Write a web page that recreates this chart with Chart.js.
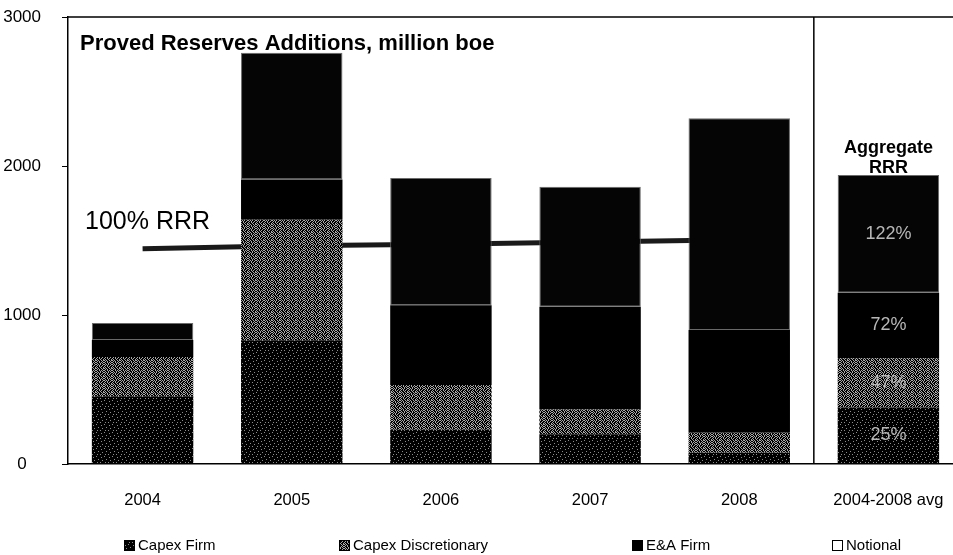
<!DOCTYPE html>
<html lang="en">
<head>
<meta charset="UTF-8">
<title>Proved Reserves Additions</title>
<style>
  body { margin: 0; background: #fff; overflow: hidden; }
  .chart-box { position: relative; width: 963px; height: 555px; }
</style>
<script src="https://cdn.jsdelivr.net/npm/chart.js"></script>
</head>
<body>
<div class="chart-box"><canvas id="reservesChart"></canvas></div>
<script>
// reserves additions, million boe
const years = ['2004', '2005', '2006', '2007', '2008', '2004-2008 avg'];
const capexFirm = [455, 830, 230, 200, 75, 380];
const capexDisc = [263, 810, 300, 165, 135, 330];
const eaFirm = [114, 270, 535, 690, 690, 440];
const notional = [114, 850, 855, 805, 1420, 790];
// production line (100% reserves replacement)
const rrrLine = [1445, 1465, 1475, 1490, 1505, null];
const yTicks = [0, 1000, 2000, 3000];
// RRR labels on the aggregate bar, one per segment
const aggLabels = ['25%', '47%', '72%', '122%'];

const FONT = '"Liberation Sans", Arial, sans-serif';

// speckled fills like the printed hatching
function speckle(rows, light) {
  const c = document.createElement('canvas');
  c.width = rows[0].length;
  c.height = rows.length;
  const g = c.getContext('2d');
  g.fillStyle = '#000';
  g.fillRect(0, 0, c.width, c.height);
  g.fillStyle = light;
  rows.forEach((r, y) => {
    [...r].forEach((ch, x) => { if (ch === 'x') g.fillRect(x, y, 1, 1); });
  });
  return g.createPattern(c, 'repeat');
}

const firmFill = speckle([
  'x.......',
  '.....x..',
  '........',
  '..x.....',
  '......x.',
  '........',
  '.x..x...',
  '........'
], '#8c8c8c');

const discFill = speckle([
  'x.x..x.x',
  '.x.x..x.',
  'x..x.x.x',
  '.x..x.x.',
  'x.x.x..x',
  '.x.x..x.',
  'x..x.x..',
  '.x..x..x'
], '#a8a8a8');

const legendItems = [
  { text: 'Capex Firm', fill: firmFill, x: 124 },
  { text: 'Capex Discretionary', fill: discFill, x: 339 },
  { text: 'E&A Firm', fill: '#000', x: 632 },
  { text: 'Notional', fill: '#fff', x: 832 }
];

const decorPlugin = {
  id: 'decor',
  afterDraw(chart) {
    const { ctx, chartArea: a, scales: { x } } = chart;
    ctx.save();

    // frame: top edge and divider before the average bar
    ctx.strokeStyle = '#000';
    ctx.lineWidth = 1.5;
    ctx.beginPath();
    ctx.moveTo(a.left, a.top);
    ctx.lineTo(chart.width, a.top);
    const divX = (x.getPixelForValue(4) + x.getPixelForValue(5)) / 2;
    ctx.moveTo(divX, a.top);
    ctx.lineTo(divX, a.bottom);
    ctx.stroke();

    // title and annotations
    ctx.fillStyle = '#000';
    ctx.textBaseline = 'middle';
    ctx.textAlign = 'left';
    ctx.font = 'bold 22px ' + FONT;
    ctx.fillText('Proved Reserves Additions, million boe', 80, 44);
    ctx.font = '25px ' + FONT;
    ctx.fillText('100% RRR', 85, 222);

    const avgX = x.getPixelForValue(5);
    ctx.textAlign = 'center';
    ctx.font = 'bold 18px ' + FONT;
    ctx.fillText('Aggregate', avgX, 148);
    ctx.fillText('RRR', avgX, 168);

    // percentage labels inside the aggregate bar
    ctx.font = '18px ' + FONT;
    ctx.fillStyle = '#b8b8b8';
    for (let i = 0; i < 4; i++) {
      const bar = chart.getDatasetMeta(i).data[5];
      if (!bar || !aggLabels[i]) continue;
      ctx.fillText(aggLabels[i], bar.x, (bar.y + bar.base) / 2);
    }

    // legend row
    ctx.font = '15px ' + FONT;
    ctx.textAlign = 'left';
    legendItems.forEach(item => {
      ctx.fillStyle = item.fill;
      ctx.fillRect(item.x, 540, 11, 11);
      ctx.strokeStyle = '#000';
      ctx.lineWidth = 1;
      ctx.strokeRect(item.x + 0.5, 540.5, 10, 10);
      ctx.fillStyle = '#000';
      ctx.fillText(item.text, item.x + 14, 546);
    });
    ctx.restore();
  }
};

const barCommon = { barPercentage: 0.68, categoryPercentage: 1, stack: 'reserves', order: 1 };

new Chart(document.getElementById('reservesChart'), {
  data: {
    labels: years,
    datasets: [
      { type: 'bar', label: 'Capex Firm', data: capexFirm, backgroundColor: firmFill, ...barCommon },
      { type: 'bar', label: 'Capex Discretionary', data: capexDisc, backgroundColor: discFill, ...barCommon },
      { type: 'bar', label: 'E&A Firm', data: eaFirm, backgroundColor: '#000', ...barCommon },
      { type: 'bar', label: 'Notional', data: notional, backgroundColor: '#050505',
        borderColor: '#6a6a6a', borderWidth: 1, borderSkipped: false, ...barCommon },
      { type: 'line', label: '100% RRR', data: rrrLine, borderColor: '#1a1a1a', borderWidth: 5,
        pointRadius: 0, stack: 'rrr', order: 5, spanGaps: false }
    ]
  },
  options: {
    responsive: true,
    maintainAspectRatio: false,
    animation: false,
    layout: { padding: { top: 17, right: 0, bottom: 0, left: 0 } },
    plugins: { legend: { display: false }, tooltip: { enabled: false } },
    scales: {
      x: {
        stacked: true,
        grid: { display: false },
        border: { color: '#000', width: 1.5 },
        ticks: { color: '#000', font: { family: FONT, size: 16.5 }, padding: 19, maxRotation: 0 },
        afterFit(scale) { scale.height = 91; }
      },
      y: {
        stacked: true,
        min: 0,
        max: 3000,
        afterBuildTicks(scale) { scale.ticks = yTicks.map(v => ({ value: v })); },
        grid: { drawOnChartArea: false, tickLength: 6, color: '#000' },
        border: { color: '#000', width: 1.5 },
        ticks: {
          color: '#000', font: { family: FONT, size: 17 }, padding: 21, crossAlign: 'center',
          callback: v => String(v)
        },
        afterFit(scale) {
          scale.width = 68;
          // tick padding is horizontal here, keep it out of the vertical layout
          scale.paddingTop = 10;
          scale.paddingBottom = 10;
        }
      }
    }
  },
  plugins: [decorPlugin]
});
</script>
</body>
</html>
